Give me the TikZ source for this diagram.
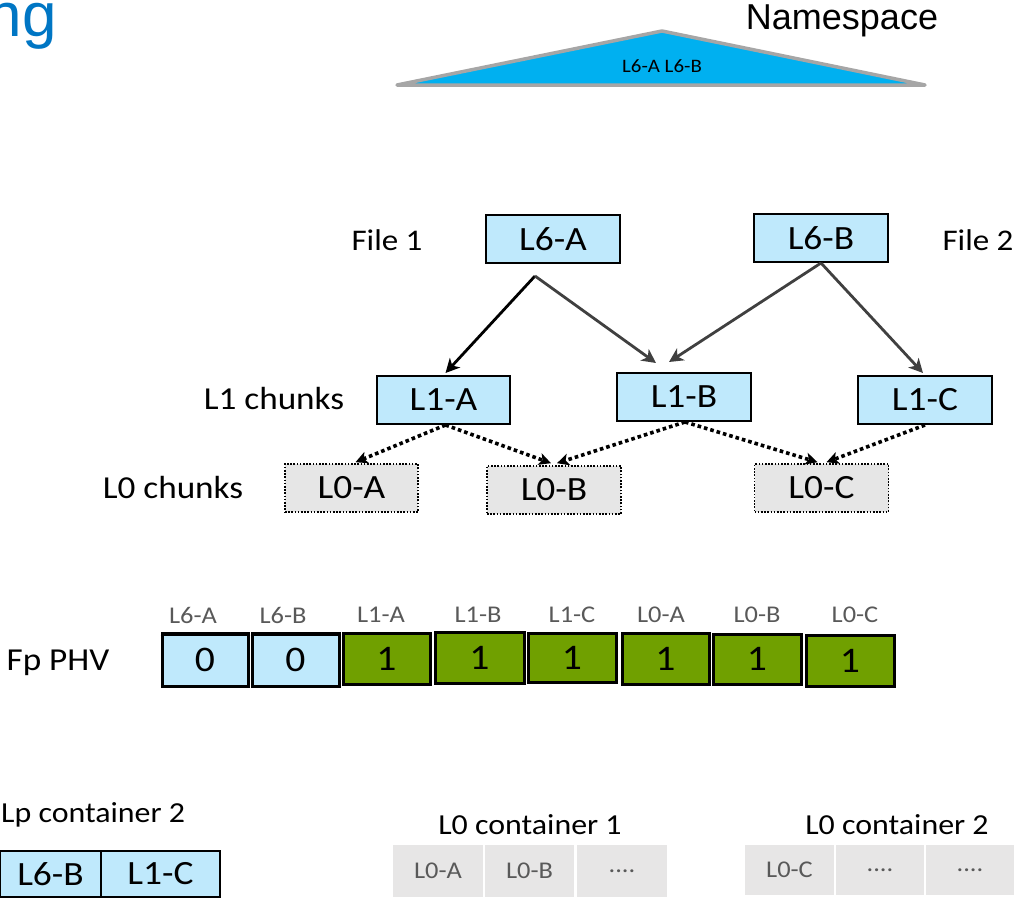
\documentclass[tikz,border=0pt]{standalone}
\usepackage{fontspec}
\setmainfont{Carlito}
\newfontfamily\calf[FakeStretch=1.1]{Carlito}
\newfontfamily\arialf{Liberation Sans}
\usetikzlibrary{arrows.meta}
\definecolor{lblue}{HTML}{BFE9FC}
\definecolor{lgray}{HTML}{E6E6E6}
\definecolor{cellgray}{HTML}{E7E6E6}
\definecolor{pgreen}{HTML}{70A000}
\definecolor{nsblue}{HTML}{00B0F0}
\definecolor{nsborder}{HTML}{A6A6A6}
\definecolor{titleblue}{RGB}{0,118,196}
\definecolor{darkarrow}{HTML}{404040}
\definecolor{labelgray}{HTML}{595959}
\tikzset{
  bluebox/.style={draw=black, line width=2pt, fill=lblue, minimum width=134pt, minimum height=48pt, inner sep=0pt, font=\calf\fontsize{34}{40}\selectfont},
  chunkbox/.style={draw=black, line width=1.6pt, dash pattern=on 1.6pt off 1.6pt, fill=lgray, minimum width=134pt, minimum height=48pt, inner sep=0pt, font=\calf\fontsize{34}{40}\selectfont},
  sidelabel/.style={inner sep=0pt, font=\calf\fontsize{29}{34}\selectfont},
  biglabel/.style={inner sep=0pt, font=\calf\fontsize{32}{38}\selectfont},
  solidarrow/.style={line width=2.8pt, -{Stealth[length=14pt, width=14pt, inset=4pt]}},
  dotarrow/.style={line width=3.6pt, dash pattern=on 3.6pt off 3pt, -{Stealth[length=12pt, width=12pt, inset=3pt]}},
  phvbox/.style={draw=black, line width=3pt, inner sep=0pt, font=\calf\fontsize{36}{42}\selectfont},
  phvlabel/.style={inner sep=0pt, text=labelgray, font=\calf\fontsize{24}{28}\selectfont},
  cell/.style={fill=cellgray, inner sep=0pt, text=labelgray, font=\calf\fontsize{24}{28}\selectfont},
  lpbox/.style={draw=black, line width=2.5pt, fill=lblue, inner sep=0pt, font=\calf\fontsize{34}{40}\selectfont},
}
\begin{document}
\begin{tikzpicture}[x=1pt,y=-1pt]
\useasboundingbox (0,0) rectangle (1014,899);

% title fragment
\node[anchor=base east, inner sep=0pt, text=titleblue, font=\arialf\fontsize{62}{70}\selectfont] (title) at (57,37) {ng};

% namespace
\path[draw=nsborder, line width=3.5pt, fill=nsblue, line join=round] (397,85) coordinate (nsL) -- (662,31) coordinate (nsT) -- (925,85) coordinate (nsR) -- cycle;
\node[inner sep=0pt, font=\calf\fontsize{19}{22}\selectfont] (nstext) at (662,66) {L6-A L6-B};
\node[inner sep=0pt, font=\arialf\fontsize{36}{40}\selectfont] (nslabel) at (842,21) {Namespace};

% tree
\node[bluebox] (L6A) at (553,239) {L6-A};
\node[bluebox] (L6B) at (821,238) {L6-B};
\node[bluebox, minimum width=133pt] (L1A) at (443.5,400) {L1-A};
\node[bluebox] (L1B) at (684,397) {L1-B};
\node[bluebox] (L1C) at (925,400) {L1-C};
\node[chunkbox, minimum width=133pt] (L0A) at (351.5,488) {L0-A};
\node[chunkbox] (L0B) at (554,490) {L0-B};
\node[chunkbox] (L0C) at (821.5,488) {L0-C};

\node[sidelabel, font=\calf\fontsize{30}{36}\selectfont] (file1) at (387,240) {File 1};
\node[sidelabel, font=\calf\fontsize{30}{36}\selectfont] (file2) at (978,240) {File 2};
\node[biglabel] (l1lab) at (274,399) {L1 chunks};
\node[biglabel] (l0lab) at (173,488) {L0 chunks};

\coordinate (a6) at ([xshift=-18pt,yshift=-12pt]L6A.south);
\coordinate (t1a) at ([xshift=2pt,yshift=2pt]L1A.north);
\coordinate (t1b1) at ([xshift=-28pt,yshift=9pt]L1B.north);
\coordinate (t1b2) at ([xshift=-15pt,yshift=10pt]L1B.north);
\coordinate (t1c) at ([xshift=-2pt,yshift=2pt]L1C.north);
\draw[solidarrow, black] (a6) -- (t1a);
\draw[solidarrow, darkarrow] (a6) -- (t1b1);
\draw[solidarrow, darkarrow] (L6B.south) -- (t1b2);
\draw[solidarrow, darkarrow] (L6B.south) -- (t1c);

\coordinate (s1a) at ([xshift=2pt]L1A.south);
\coordinate (s1b) at ([xshift=1pt]L1B.south);
\coordinate (s1c) at (L1C.south);
\coordinate (e0a) at ([xshift=4pt,yshift=1pt]L0A.north);
\coordinate (e0b1) at ([xshift=-3pt,yshift=2pt]L0B.north);
\coordinate (e0b2) at ([xshift=3pt,yshift=2pt]L0B.north);
\coordinate (e0c1) at ([xshift=-4pt,yshift=1pt]L0C.north);
\coordinate (e0c2) at ([xshift=5pt,yshift=1pt]L0C.north);
\draw[dotarrow] (s1a) -- (e0a);
\draw[dotarrow] (s1a) -- (e0b1);
\draw[dotarrow] (s1b) -- (e0b2);
\draw[dotarrow] (s1b) -- (e0c1);
\draw[dotarrow] (s1c) -- (e0c2);

% Fp PHV
\node[biglabel] (fplab) at (58,663) {Fp PHV};
\node[phvbox, fill=lblue, minimum width=86pt, minimum height=53pt] (p1) at (205,659.5) {0};
\node[phvbox, fill=lblue, minimum width=87pt, minimum height=53pt] (p2) at (295.5,659.5) {0};
\draw[line width=1pt] ([yshift=-4pt]p1.north west) -- ([yshift=-4pt]p1.north east);
\draw[line width=1pt] ([yshift=-4pt]p2.north west) -- ([yshift=-4pt]p2.north east);
\node[phvbox, fill=pgreen, minimum width=87pt, minimum height=51pt] (p3) at (386.5,658.5) {1};
\node[phvbox, fill=pgreen, minimum width=89pt, minimum height=51pt] (p4) at (479.5,658) {1};
\node[phvbox, fill=pgreen, minimum width=88pt, minimum height=49pt] (p5) at (572,657.5) {1};
\node[phvbox, fill=pgreen, minimum width=87pt, minimum height=51pt] (p6) at (665.5,658.5) {1};
\node[phvbox, fill=pgreen, minimum width=88pt, minimum height=50pt] (p7) at (757,659) {1};
\node[phvbox, fill=pgreen, minimum width=88pt, minimum height=51pt] (p8) at (850,660.5) {1};
\node[phvlabel] (q1) at (193,615) {L6-A};
\node[phvlabel] (q2) at (283,615) {L6-B};
\node[phvlabel] (q3) at (381,615) {L1-A};
\node[phvlabel] (q4) at (478,615) {L1-B};
\node[phvlabel] (q5) at (572,615) {L1-C};
\node[phvlabel] (q6) at (661,615) {L0-A};
\node[phvlabel] (q7) at (757,615) {L0-B};
\node[phvlabel] (q8) at (855,615) {L0-C};

% containers
\node[sidelabel, anchor=west] (lpc) at (1,815) {Lp container 2};
\node[lpbox, minimum width=101pt, minimum height=46pt] (lp1) at (50.5,874) {L6-B};
\node[lpbox, minimum width=119pt, minimum height=46pt] (lp2) at (160.5,874) {L1-C};

\node[sidelabel] (c1lab) at (530,825) {L0 container 1};
\node[cell, minimum width=90pt, minimum height=52pt] (c11) at (438,871) {L0-A};
\node[cell, minimum width=89pt, minimum height=52pt] (c12) at (529.5,871) {L0-B};
\node[cell, minimum width=90pt, minimum height=52pt] (c13) at (622,871) {....};

\node[sidelabel] (c2lab) at (897,825) {L0 container 2};
\node[cell, minimum width=89pt, minimum height=50pt] (c21) at (789.5,870) {L0-C};
\node[cell, minimum width=88pt, minimum height=50pt] (c22) at (880,870) {....};
\node[cell, minimum width=88pt, minimum height=50pt] (c23) at (970,870) {....};
\end{tikzpicture}
\end{document}
